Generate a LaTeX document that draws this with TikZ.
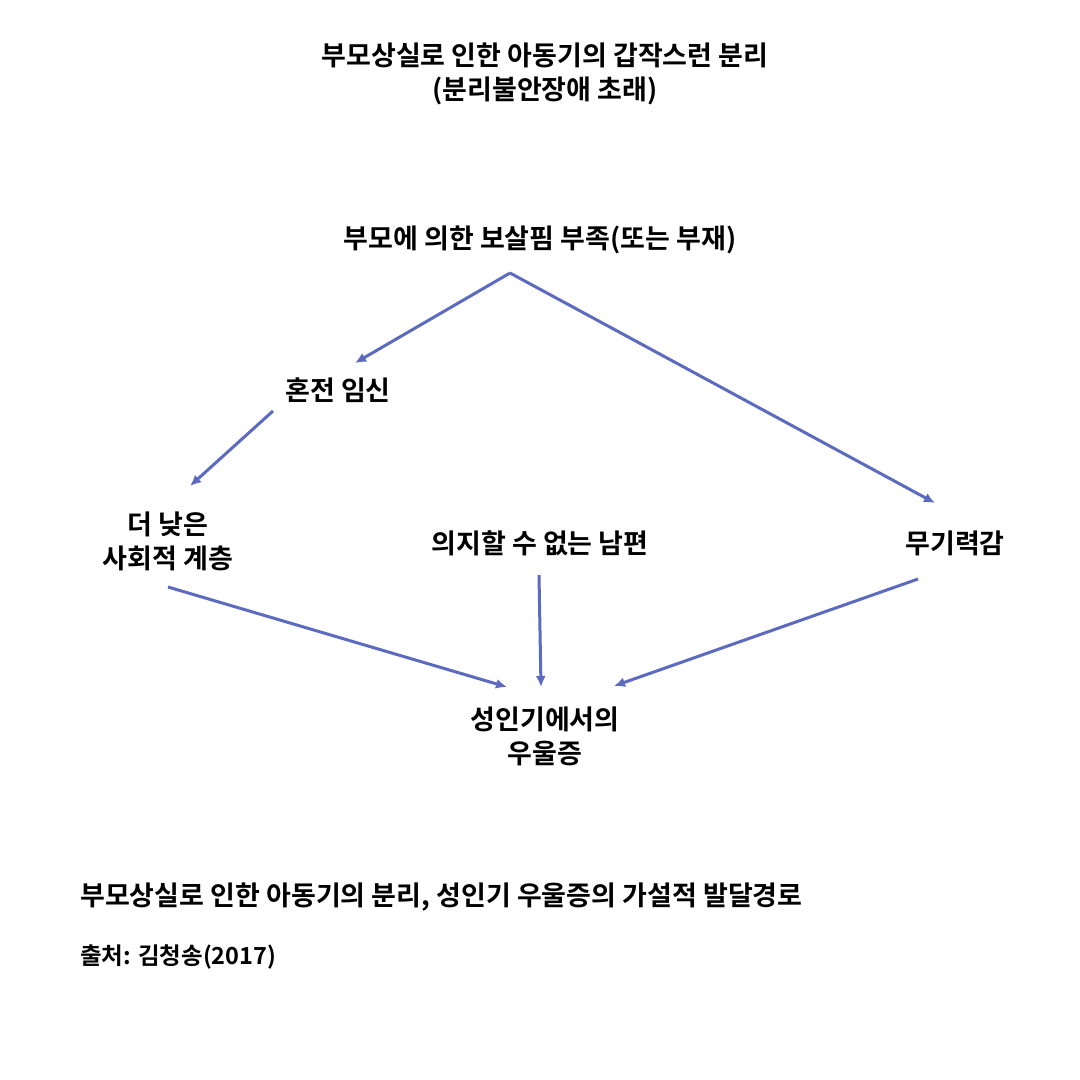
\documentclass[tikz,border=0pt]{standalone}
\usepackage{fontspec}
\setmainfont{Noto Sans CJK KR}[BoldFont={Noto Sans CJK KR Bold}]
\begin{document}
\begin{tikzpicture}[x=1pt,y=-1pt,
  lbl/.style={font=\bfseries\fontsize{27}{34}\selectfont,align=center,inner sep=0},
  arr/.style={draw=arrowc,line width=3pt,-{Latex[length=11pt,width=10pt]}}]
\usetikzlibrary{arrows.meta}
\definecolor{arrowc}{RGB}{92,107,192}
\useasboundingbox[fill=white] (0,0) rectangle (1080,1080);
\node[lbl] (title) at (545,74) {부모상실로 인한 아동기의 갑작스런 분리\\(분리불안장애 초래)};
\node[lbl] (top) at (540,240) {부모에 의한 보살핌 부족(또는 부재)};
\node[lbl] (preg) at (338,390) {혼전 임신};
\node[lbl] (low) at (168,541) {더 낮은\\사회적 계층};
\node[lbl] (hus) at (540,543) {의지할 수 없는 남편};
\node[lbl] (help) at (955,543) {무기력감};
\node[lbl] (dep) at (545,736) {성인기에서의\\우울증};
\node[lbl,anchor=west] (cap) at (80,897) {부모상실로 인한 아동기의 분리, 성인기 우울증의 가설적 발달경로};
\node[lbl,anchor=west,font=\bfseries\fontsize{23.5}{28}\selectfont] (src) at (80,957) {출처: 김청송(2017)};
\coordinate (a0) at (510,273);
\coordinate (a1) at (355,363);
\coordinate (a2) at (935,503);
\coordinate (b0) at (273,411);
\coordinate (b1) at (190,486);
\coordinate (c0) at (168,587);
\coordinate (c1) at (507,687);
\coordinate (d0) at (539,575);
\coordinate (d1) at (541,687);
\coordinate (e0) at (918,579);
\coordinate (e1) at (614,686);
\draw[arr] (a0) -- (a1);
\draw[arr] (a0) -- (a2);
\draw[arr] (b0) -- (b1);
\draw[arr] (c0) -- (c1);
\draw[arr] (d0) -- (d1);
\draw[arr] (e0) -- (e1);
\end{tikzpicture}
\end{document}
